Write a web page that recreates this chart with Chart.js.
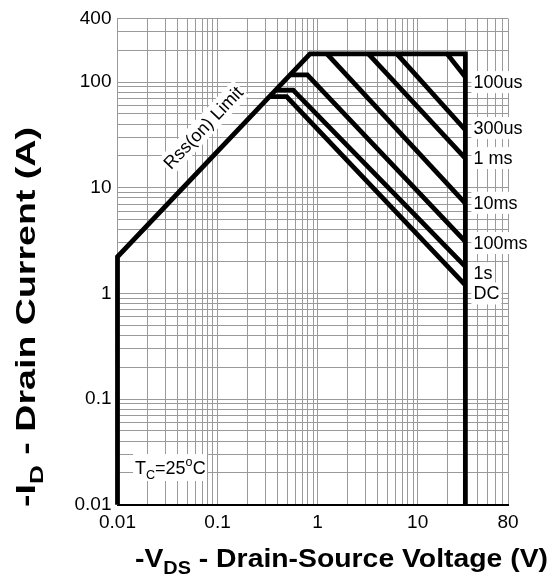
<!DOCTYPE html>
<html>
<head>
<meta charset="utf-8">
<script src="https://cdn.jsdelivr.net/npm/chart.js@4.4.1/dist/chart.umd.min.js"></script>
<style>
  html, body { margin: 0; padding: 0; background: #fff; }
</style>
</head>
<body>
<canvas id="soa" width="551" height="582"></canvas>
<script>
// tick labels that are printed (all other 1..9 steps only get a grid line)
const xTickLabels = [0.01, 0.1, 1, 10, 80];
const yTickLabels = [0.01, 0.1, 1, 10, 100, 400];

// outer SOA boundary: Rds(on) limit -> current limit -> Vds limit
const limitV = [0.01, 0.01, 0.84, 30, 30];
const limitI = [0.01, 2.22, 185, 185, 0.01];

// pulse width lines
const pulseNames = ['100us', '300us', '1 ms', '10ms', '100ms', '1s', 'DC'];
const pulseV = [
  [19.7, 30],
  [6.2, 30],
  [3.22, 30],
  [1.24, 30],
  [0.527, 0.79, 30],
  [0.378, 0.57, 30],
  [0.328, 0.49, 30]
];
const pulseI = [
  [185, 112],
  [185, 35.2],
  [185, 19.0],
  [185, 7.13],
  [117, 117, 3.09],
  [84, 84, 1.79],
  [72.8, 72.8, 1.20]
];

const FONT = '"Liberation Sans", Arial, Helvetica, sans-serif';

function logGrid(min, max) {
  const out = [];
  for (let d = min; d <= max; d *= 10) {
    for (let m = 1; m <= 9; m++) {
      const v = parseFloat((m * d).toPrecision(3));
      if (v >= min && v <= max) out.push(v);
    }
  }
  if (out[out.length - 1] !== max) out.push(max);
  return out;
}
const xGrid = logGrid(0.01, 80);
const yGrid = logGrid(0.01, 400);

function isLabel(list, v) {
  return list.some(l => Math.abs(l - v) / l < 1e-6);
}

function toPoints(vs, is) {
  return vs.map((v, i) => ({ x: v, y: is[i] }));
}

const lineStyle = {
  borderColor: '#000',
  borderWidth: 4.8,
  pointRadius: 0,
  showLine: true,
  fill: false,
  clip: false,
  borderJoinStyle: 'miter'
};

const datasets = [{ ...lineStyle, data: toPoints(limitV, limitI) }];
pulseV.forEach((vs, k) => {
  datasets.push({ ...lineStyle, label: pulseNames[k], data: toPoints(vs, pulseI[k]) });
});

// draws text made of runs, runs may be sub- or superscript
function drawRuns(ctx, runs, x, y, size, weight, targetW) {
  const parts = runs.map(r => {
    const s = r.s ? size * 0.7 : size;
    ctx.font = weight + ' ' + s + 'px ' + FONT;
    return { t: r.t, s, dy: r.s === 'sub' ? size * 0.28 : r.s === 'sup' ? -size * 0.42 : 0, w: ctx.measureText(r.t).width };
  });
  const total = parts.reduce((a, p) => a + p.w, 0);
  ctx.save();
  ctx.translate(x, y);
  if (targetW) ctx.scale(targetW / total, 1);
  let cx = 0;
  parts.forEach(p => {
    ctx.font = weight + ' ' + p.s + 'px ' + FONT;
    ctx.fillText(p.t, cx, p.dy);
    cx += p.w;
  });
  ctx.restore();
  return targetW || total;
}

const annotate = {
  id: 'annotate',
  afterDatasetsDraw(chart) {
    const { ctx } = chart;
    const xs = chart.scales.x, ys = chart.scales.y;
    ctx.save();
    ctx.fillStyle = '#000';
    ctx.textBaseline = 'middle';
    ctx.textAlign = 'left';

    // pulse labels to the right of the Vds limit
    const labelAt = [100, 36.7, 19.1, 7.2, 3.0, 1.55, 1.0];
    const lx = xs.getPixelForValue(30) + 8;
    ctx.font = '18px ' + FONT;
    pulseNames.forEach((name, k) => {
      const py = ys.getPixelForValue(labelAt[k]);
      const w = ctx.measureText(name).width;
      ctx.fillStyle = '#fff';
      ctx.fillRect(lx - 2, py - 11, w + 4, 22);
      ctx.fillStyle = '#000';
      ctx.fillText(name, lx, py + 1);
    });

    // Rds(on) limit label along the line
    const x0 = xs.getPixelForValue(limitV[1]), y0 = ys.getPixelForValue(limitI[1]);
    const x1 = xs.getPixelForValue(limitV[2]), y1 = ys.getPixelForValue(limitI[2]);
    const ang = Math.atan2(y1 - y0, x1 - x0);
    const cx = xs.getPixelForValue(0.072), cy = ys.getPixelForValue(37);
    ctx.save();
    ctx.translate(cx, cy);
    ctx.rotate(ang);
    ctx.font = '18px ' + FONT;
    const rt = 'Rss(on) Limit';
    const rw = ctx.measureText(rt).width;
    ctx.fillStyle = '#fff';
    ctx.fillRect(-rw / 2 - 2, -11, rw + 4, 22);
    ctx.fillStyle = '#000';
    ctx.textAlign = 'center';
    ctx.fillText(rt, 0, 1);
    ctx.restore();

    // case temperature note
    ctx.textBaseline = 'alphabetic';
    const tRuns = [{ t: 'T' }, { t: 'C', s: 'sub' }, { t: '=25' }, { t: 'o', s: 'sup' }, { t: 'C' }];
    ctx.fillStyle = '#fff';
    ctx.fillRect(133, 454, 74, 27);
    ctx.fillStyle = '#000';
    drawRuns(ctx, tRuns, 135, 474, 18, 'normal');

    // axis titles
    drawRuns(ctx, [{ t: '-V' }, { t: 'DS', s: 'sub' }, { t: ' - Drain-Source Voltage (V)' }], 135, 567, 25, 'bold', 413);
    ctx.save();
    ctx.translate(35, 507);
    ctx.rotate(-Math.PI / 2);
    drawRuns(ctx, [{ t: '-I' }, { t: 'D', s: 'sub' }, { t: ' - Drain Current (A)' }], 0, 0, 27, 'bold', 380);
    ctx.restore();

    ctx.restore();
  }
};

new Chart(document.getElementById('soa'), {
  type: 'scatter',
  data: { datasets },
  plugins: [annotate],
  options: {
    responsive: false,
    animation: false,
    devicePixelRatio: 1,
    layout: { padding: { top: 18.5, right: 43, left: 0, bottom: 0 } },
    plugins: { legend: { display: false }, tooltip: { enabled: false } },
    scales: {
      x: {
        type: 'logarithmic',
        min: 0.01,
        max: 80,
        afterBuildTicks: s => { s.ticks = xGrid.map(v => ({ value: v })); },
        afterFit: s => { s.height = 77.3; },
        ticks: {
          autoSkip: false,
          maxRotation: 0,
          padding: 7,
          color: '#000',
          font: { family: FONT, size: 19 },
          callback: v => isLabel(xTickLabels, v) ? String(v) : ''
        },
        grid: { color: '#9a9a9a', lineWidth: 1, drawTicks: false },
        border: { color: '#000', width: 2 }
      },
      y: {
        type: 'logarithmic',
        min: 0.01,
        max: 400,
        afterBuildTicks: s => { s.ticks = yGrid.map(v => ({ value: v })); },
        afterFit: s => { s.width = 117.5; },
        ticks: {
          autoSkip: false,
          padding: 6,
          color: '#000',
          font: { family: FONT, size: 19 },
          callback: v => isLabel(yTickLabels, v) ? String(v) : ''
        },
        grid: { color: '#9a9a9a', lineWidth: 1, drawTicks: false },
        border: { color: '#9a9a9a', width: 1 }
      }
    }
  }
});
</script>
</body>
</html>
